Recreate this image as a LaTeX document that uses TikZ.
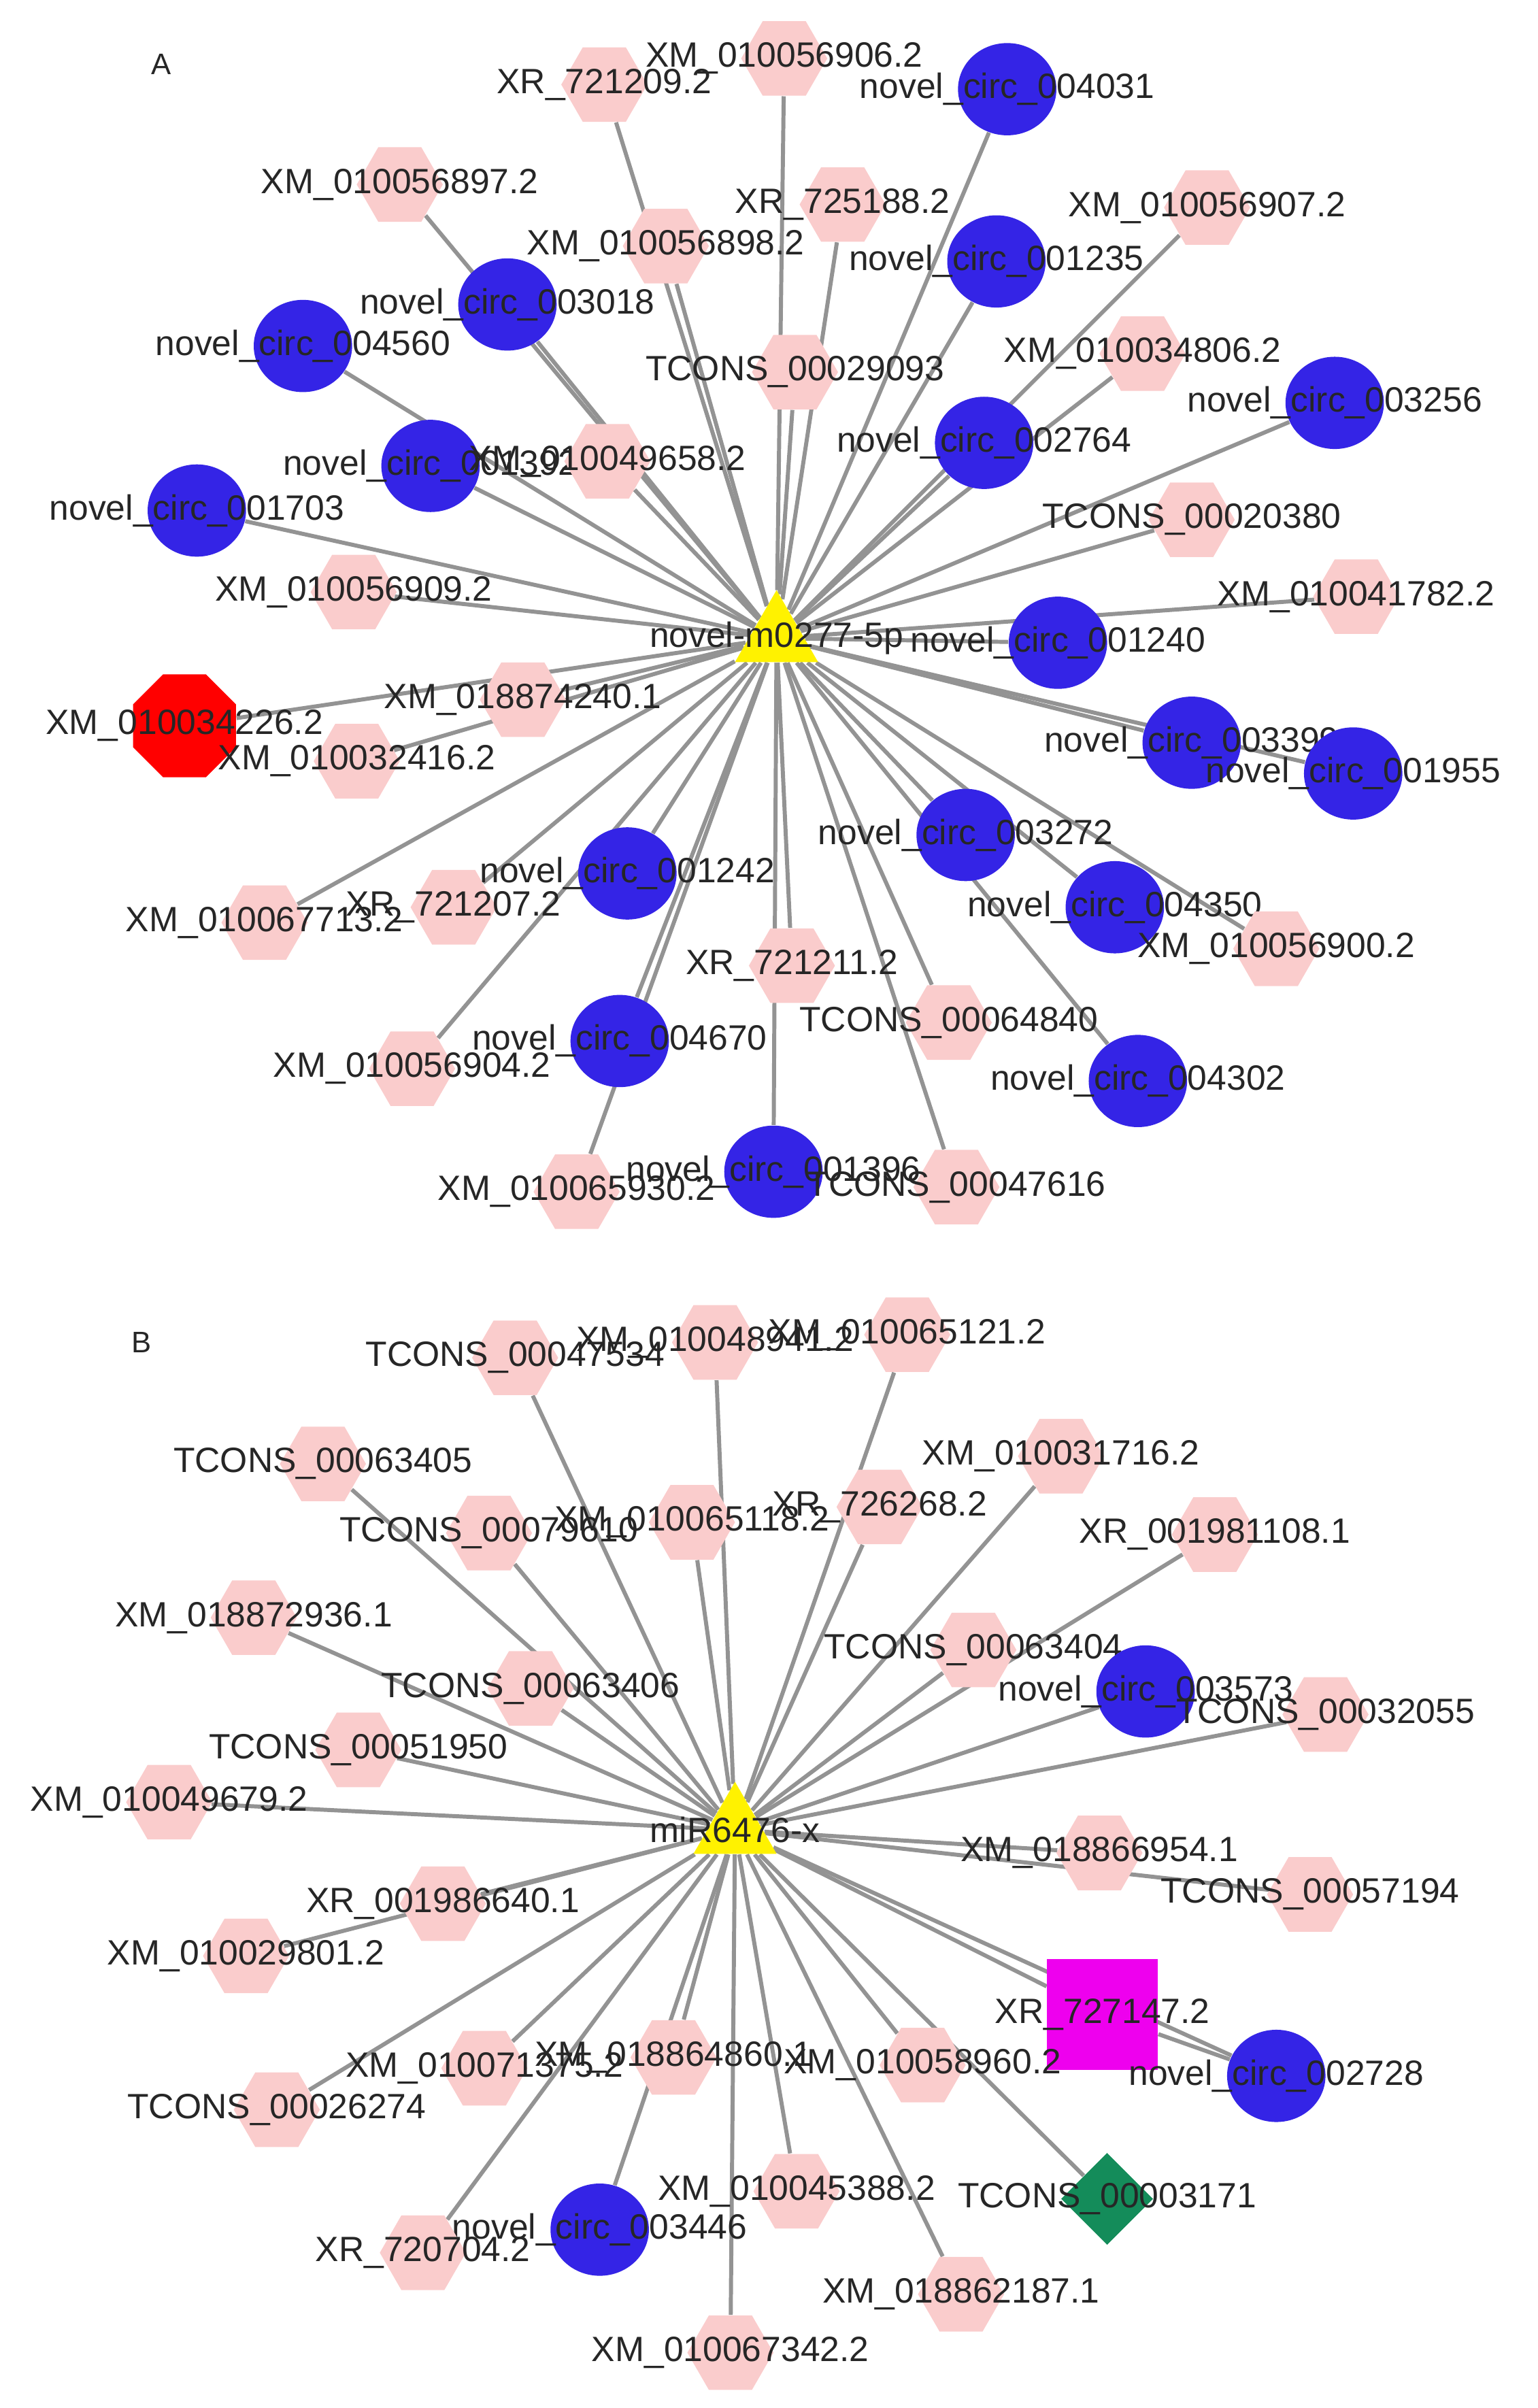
\documentclass[tikz,border=0pt]{standalone}
\usepackage{fontspec}
\setmainfont{Liberation Sans}
\usetikzlibrary{shapes.geometric,backgrounds}
\definecolor{circblue}{RGB}{52,36,230}
\definecolor{hexpink}{RGB}{250,204,204}
\definecolor{sqmagenta}{RGB}{238,0,238}
\definecolor{dmgreen}{RGB}{20,140,90}

\begin{document}
\begin{tikzpicture}
  [x=0.02cm, y=-0.02cm,
   lbl/.style={font=\fontsize{13}{15}\selectfont, text=black!85, inner sep=0pt},
   hex/.style={regular polygon, regular polygon sides=6, fill=hexpink, minimum size=1.12cm, inner sep=0pt},
   circ/.style={ellipse, fill=circblue, minimum width=1.28cm, minimum height=1.2cm, inner sep=0pt},
   hub/.style={regular polygon, regular polygon sides=3, fill=yellow, minimum size=1.25cm, inner sep=0pt},
   link/.style={draw=gray!85, line width=1.5pt}]
  \useasboundingbox (0,0) rectangle (1000,1566);
  \node [lbl, font=\fontsize{11}{13}\selectfont] (labA) at (105,42) {A};
  \node [lbl, font=\fontsize{11}{13}\selectfont] (labB) at (92,873) {B};
  % network A
  \node (a0) [hub, label={[lbl]center:novel-m0277-5p}] at (505,415) {};
  \node (a1) [hex, label={[lbl]center:XR\_721209.2}] at (393,55) {};
  \node (a2) [hex, label={[lbl]center:XM\_010056906.2}] at (510,38) {};
  \node (a3) [circ, label={[lbl]center:novel\_circ\_004031}] at (655,58) {};
  \node (a4) [hex, label={[lbl]center:XM\_010056897.2}] at (260,120) {};
  \node (a5) [hex, label={[lbl]center:XR\_725188.2}] at (548,133) {};
  \node (a6) [hex, label={[lbl]center:XM\_010056907.2}] at (785,135) {};
  \node (a7) [hex, label={[lbl]center:XM\_010056898.2}] at (433,160) {};
  \node (a8) [circ, label={[lbl]center:novel\_circ\_001235}] at (648,170) {};
  \node (a9) [circ, label={[lbl]center:novel\_circ\_003018}] at (330,198) {};
  \node (a10) [circ, label={[lbl]center:novel\_circ\_004560}] at (197,225) {};
  \node (a11) [hex, label={[lbl]center:TCONS\_00029093}] at (517,242) {};
  \node (a12) [hex, label={[lbl]center:XM\_010034806.2}] at (743,230) {};
  \node (a13) [circ, label={[lbl]center:novel\_circ\_003256}] at (868,262) {};
  \node (a14) [circ, label={[lbl]center:novel\_circ\_002764}] at (640,288) {};
  \node (a15) [circ, label={[lbl]center:novel\_circ\_001392}] at (280,303) {};
  \node (a16) [hex, label={[lbl]center:XM\_010049658.2}] at (395,300) {};
  \node (a17) [circ, label={[lbl]center:novel\_circ\_001703}] at (128,332) {};
  \node (a18) [hex, label={[lbl]center:TCONS\_00020380}] at (775,338) {};
  \node (a19) [hex, label={[lbl]center:XM\_010056909.2}] at (230,385) {};
  \node (a20) [hex, label={[lbl]center:XM\_010041782.2}] at (882,388) {};
  \node (a21) [circ, label={[lbl]center:novel\_circ\_001240}] at (688,418) {};
  \node (a22) [hex, label={[lbl]center:XM\_018874240.1}] at (340,455) {};
  \node (a23) [regular polygon, regular polygon sides=8, fill=red, minimum size=1.45cm, label={[lbl]center:XM\_010034226.2}] at (120,472) {};
  \node (a24) [hex, label={[lbl]center:XM\_010032416.2}] at (232,495) {};
  \node (a25) [circ, label={[lbl]center:novel\_circ\_003399}] at (775,483) {};
  \node (a26) [circ, label={[lbl]center:novel\_circ\_001955}] at (880,503) {};
  \node (a27) [circ, label={[lbl]center:novel\_circ\_003272}] at (628,543) {};
  \node (a28) [circ, label={[lbl]center:novel\_circ\_001242}] at (408,568) {};
  \node (a29) [hex, label={[lbl]center:XR\_721207.2}] at (295,590) {};
  \node (a30) [hex, label={[lbl]center:XM\_010067713.2}] at (172,600) {};
  \node (a31) [circ, label={[lbl]center:novel\_circ\_004350}] at (725,590) {};
  \node (a32) [hex, label={[lbl]center:XM\_010056900.2}] at (830,617) {};
  \node (a33) [hex, label={[lbl]center:XR\_721211.2}] at (515,628) {};
  \node (a34) [hex, label={[lbl]center:TCONS\_00064840}] at (617,665) {};
  \node (a35) [circ, label={[lbl]center:novel\_circ\_004670}] at (403,677) {};
  \node (a36) [hex, label={[lbl]center:XM\_010056904.2}] at (268,695) {};
  \node (a37) [circ, label={[lbl]center:novel\_circ\_004302}] at (740,703) {};
  \node (a38) [circ, label={[lbl]center:novel\_circ\_001396}] at (503,762) {};
  \node (a39) [hex, label={[lbl]center:XM\_010065930.2}] at (375,775) {};
  \node (a40) [hex, label={[lbl]center:TCONS\_00047616}] at (622,772) {};
  % network B
  \node (b0) [hub, label={[lbl]center:miR6476-x}] at (478,1190) {};
  \node (b1) [hex, label={[lbl]center:TCONS\_00047534}] at (335,883) {};
  \node (b2) [hex, label={[lbl]center:XM\_010048941.2}] at (465,873) {};
  \node (b3) [hex, label={[lbl]center:XM\_010065121.2}] at (590,868) {};
  \node (b4) [hex, label={[lbl]center:TCONS\_00063405}] at (210,952) {};
  \node (b5) [hex, label={[lbl]center:XM\_010031716.2}] at (690,947) {};
  \node (b6) [hex, label={[lbl]center:TCONS\_00079610}] at (318,997) {};
  \node (b7) [hex, label={[lbl]center:XM\_010065118.2}] at (450,990) {};
  \node (b8) [hex, label={[lbl]center:XR\_726268.2}] at (572,980) {};
  \node (b9) [hex, label={[lbl]center:XR\_001981108.1}] at (790,998) {};
  \node (b10) [hex, label={[lbl]center:XM\_018872936.1}] at (165,1052) {};
  \node (b11) [hex, label={[lbl]center:TCONS\_00063404}] at (633,1073) {};
  \node (b12) [hex, label={[lbl]center:TCONS\_00063406}] at (345,1098) {};
  \node (b13) [circ, label={[lbl]center:novel\_circ\_003573}] at (745,1100) {};
  \node (b14) [hex, label={[lbl]center:TCONS\_00032055}] at (862,1115) {};
  \node (b15) [hex, label={[lbl]center:TCONS\_00051950}] at (233,1138) {};
  \node (b16) [hex, label={[lbl]center:XM\_010049679.2}] at (110,1172) {};
  \node (b17) [hex, label={[lbl]center:XM\_018866954.1}] at (715,1205) {};
  \node (b18) [hex, label={[lbl]center:TCONS\_00057194}] at (852,1232) {};
  \node (b19) [hex, label={[lbl]center:XR\_001986640.1}] at (288,1238) {};
  \node (b20) [hex, label={[lbl]center:XM\_010029801.2}] at (160,1272) {};
  \node (b21) [rectangle, fill=sqmagenta, minimum size=1.44cm, label={[lbl]center:XR\_727147.2}] at (717,1310) {};
  \node (b22) [circ, label={[lbl]center:novel\_circ\_002728}] at (830,1350) {};
  \node (b23) [hex, label={[lbl]center:XM\_010071375.2}] at (315,1345) {};
  \node (b24) [hex, label={[lbl]center:XM\_018864860.1}] at (438,1338) {};
  \node (b25) [hex, label={[lbl]center:XM\_010058960.2}] at (600,1343) {};
  \node (b26) [hex, label={[lbl]center:TCONS\_00026274}] at (180,1372) {};
  \node (b27) [diamond, fill=dmgreen, minimum width=1.2cm, minimum height=1.2cm, inner sep=0pt, label={[lbl]center:TCONS\_00003171}] at (720,1430) {};
  \node (b28) [hex, label={[lbl]center:XM\_010045388.2}] at (518,1425) {};
  \node (b29) [circ, label={[lbl]center:novel\_circ\_003446}] at (390,1450) {};
  \node (b30) [hex, label={[lbl]center:XR\_720704.2}] at (275,1465) {};
  \node (b31) [hex, label={[lbl]center:XM\_018862187.1}] at (625,1492) {};
  \node (b32) [hex, label={[lbl]center:XM\_010067342.2}] at (475,1530) {};
  \begin{scope}[on background layer]
    \foreach \i in {1,...,40} \draw [link] (a0) -- (a\i);
    \foreach \i in {1,...,32} \draw [link] (b0) -- (b\i);
    \draw [link] (b21) -- (b22);
  \end{scope}
\end{tikzpicture}
\end{document}
